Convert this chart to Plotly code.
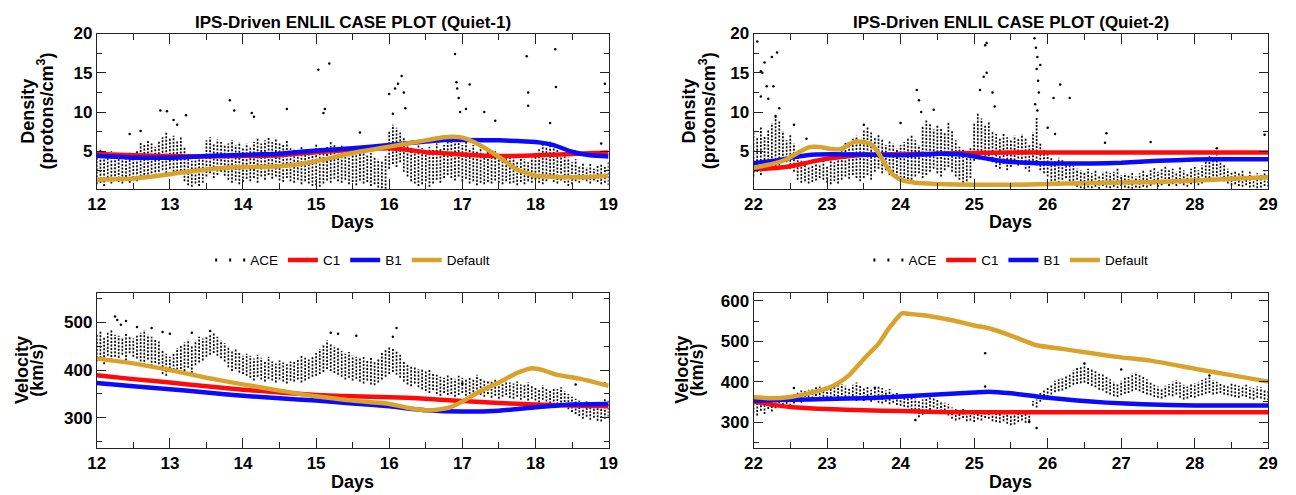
import plotly.graph_objects as go

# ------------------------------------------------------------------
# ACE observations, sampled every 0.05 day: lower / upper edge of the
# scatter at each sample time, plus isolated points outside the band.
# ------------------------------------------------------------------
ace_days_q1 = [round(12 + 0.05 * i, 2) for i in range(141)]
ace_days_q2 = [round(22 + 0.05 * i, 2) for i in range(141)]

# Quiet-1 density (protons/cm^3)
ace_dens_q1_lo = [
    0.8, 1.0, 0.6, 1.2, 0.9, 1.4, 1.1, 0.9, 1.3, 1.0, 1.6, 1.2,
    1.8, 2.0, 1.6, 2.2, 1.9, 2.4, 2.6, 2.2, 2.8, 2.4, 2.0, 2.5,
    1.2, 0.7, 0.5, 0.9, 0.6, 1.0, 1.8, 2.2, 1.6, 2.0, 2.4, 1.9,
    1.4, 1.0, 1.3, 0.8, 1.1, 1.5, 1.2, 1.6, 1.0, 1.8, 1.4, 2.0,
    1.5, 1.8, 1.3, 1.1, 1.6, 1.2, 1.0, 1.4, 0.8, 1.2, 0.9, 0.6,
    0.7, 0.5, 0.9, 1.3, 1.0, 1.5, 1.2, 1.0, 1.4, 0.8, 1.1, 0.7,
    1.3, 0.9, 1.1, 0.6, 0.8, 0.4, 0.3, 0.2, 2.8, 3.4, 3.0, 3.6,
    2.4, 1.8, 1.2, 0.9, 0.6, 0.8, 1.2, 0.5, 0.9, 1.4, 1.0, 1.6,
    2.0, 1.6, 1.3, 1.8, 1.2, 1.5, 0.9, 1.2, 0.7, 1.0, 0.8, 1.1,
    0.9, 1.3, 1.0, 0.8, 1.2, 0.9, 1.0, 0.7, 1.1, 0.8, 1.2, 1.0,
    1.4, 1.0, 0.8, 1.2, 1.5, 1.1, 0.9, 1.3, 1.0, 0.6, 0.8, 1.2,
    1.0, 1.4, 1.2, 0.9, 1.3, 1.1, 0.8, 1.0, 0.7,
]
ace_dens_q1_hi = [
    4.6, 5.2, 4.8, 4.4, 5.0, 4.6, 4.2, 4.8, 4.4, 5.0, 4.5, 5.2,
    6.2, 5.8, 6.5, 6.0, 5.6, 6.3, 6.8, 7.4, 6.6, 7.0, 6.4, 6.9,
    5.6, 4.4, 3.8, 4.2, 4.0, 4.6, 6.4, 6.8, 6.0, 6.5, 6.2, 5.8,
    6.0, 6.4, 5.8, 6.2, 5.5, 6.0, 5.6, 6.2, 6.6, 6.0, 6.4, 6.8,
    6.2, 6.6, 6.0, 5.8, 6.4, 5.4, 5.2, 4.8, 5.6, 5.0, 4.6, 5.4,
    6.0, 5.2, 4.8, 5.6, 6.2, 5.8, 5.4, 5.8, 5.0, 5.6, 5.2, 4.8,
    5.0, 5.4, 4.6, 4.8, 4.2, 4.0, 3.8, 4.4, 7.6, 8.4, 8.0, 7.4,
    6.8, 6.0, 5.6, 5.2, 5.8, 5.4, 5.0, 5.6, 5.2, 6.0, 5.4, 5.8,
    6.2, 6.6, 6.0, 6.4, 5.8, 6.2, 5.4, 5.8, 5.0, 5.6, 4.8, 5.2,
    4.6, 5.0, 4.4, 4.8, 4.2, 4.6, 4.2, 3.8, 4.4, 4.0, 3.6, 4.2,
    4.8, 5.4, 6.0, 5.6, 6.4, 5.8, 5.2, 4.6, 5.0, 4.2, 3.6, 4.0,
    3.2, 3.6, 3.0, 3.4, 2.8, 3.2, 3.4, 3.0, 3.6,
]
ace_dens_q1_out_t = [12.45, 12.6, 12.87, 12.96, 13.05, 13.1, 13.22, 13.82, 13.88, 14.12,
                     14.15, 14.6, 15.03, 15.18, 15.12, 15.1, 15.6, 16.0, 16.08, 16.12,
                     16.17, 16.2, 16.22, 16.05, 16.9, 16.92, 16.93, 16.95, 16.97, 17.1,
                     17.05, 17.3, 17.45, 17.88, 17.9, 17.9, 18.27, 18.28, 18.2, 18.95, 18.9]
ace_dens_q1_out_v = [7.2, 7.6, 10.2, 10.1, 9.0, 8.4, 9.6, 11.5, 10.2, 9.9,
                     9.4, 10.4, 15.4, 16.2, 10.4, 9.9, 7.4, 12.3, 13.0, 13.6,
                     14.6, 12.5, 10.5, 9.8, 17.4, 13.8, 13.0, 11.8, 10.0, 13.5,
                     10.4, 10.0, 8.9, 17.1, 12.5, 10.8, 18.0, 13.2, 8.6, 13.6, 6.0]

# Quiet-2 density (protons/cm^3)
ace_dens_q2_lo = [
    1.8, 2.4, 2.0, 3.0, 3.4, 2.8, 2.6, 3.2, 4.0, 3.6, 2.8, 2.4,
    1.4, 1.0, 1.2, 0.9, 1.1, 1.3, 1.6, 1.4, 1.0, 0.8, 1.2, 0.9,
    1.4, 1.8, 1.5, 2.0, 1.6, 1.2, 1.6, 2.0, 1.4, 2.4, 2.8, 2.2,
    2.6, 2.0, 2.4, 1.8, 1.2, 1.6, 1.0, 1.4, 1.8, 2.2, 1.6, 2.0,
    2.4, 2.8, 2.2, 1.8, 2.6, 3.0, 2.4, 1.8, 1.4, 1.0, 1.2, 1.6,
    3.8, 4.2, 4.6, 4.0, 4.4, 3.6, 3.0, 2.8, 3.4, 2.6, 3.0, 3.4,
    3.2, 3.6, 2.8, 2.4, 3.8, 3.2, 2.6, 2.2, 1.8, 1.2, 0.8, 1.0,
    1.4, 1.6, 1.2, 0.8, 0.5, 0.3, 0.2, 0.4, 0.3, 0.5, 0.2, 0.6,
    0.4, 0.3, 0.5, 0.3, 0.6, 0.4, 0.3, 0.2, 0.4, 0.3, 0.5, 0.4,
    0.6, 0.8, 0.5, 0.7, 1.0, 0.6, 0.8, 0.6, 0.9, 0.7, 0.5, 0.8,
    1.0, 0.7, 0.9, 1.2, 1.6, 1.4, 1.8, 1.5, 1.2, 0.9, 0.7, 0.8,
    0.6, 0.5, 0.7, 0.4, 0.5, 0.3, 0.4, 0.6, 0.5,
]
ace_dens_q2_hi = [
    7.5, 6.8, 8.2, 7.0, 7.8, 8.6, 9.4, 8.8, 7.6, 6.4, 7.2, 6.0,
    4.2, 3.8, 3.4, 3.0, 3.2, 3.6, 3.4, 3.8, 3.2, 4.0, 3.6, 4.6,
    5.6, 6.2, 5.8, 6.6, 7.0, 6.4, 7.8, 8.2, 7.4, 6.8, 7.2, 6.6,
    5.8, 6.4, 6.0, 5.4, 5.8, 6.2, 6.6, 7.0, 6.4, 5.8, 8.2, 9.0,
    8.6, 7.8, 8.4, 8.0, 7.4, 8.8, 7.6, 6.4, 5.6, 5.2, 4.8, 5.4,
    8.6, 9.8, 9.2, 8.4, 8.8, 7.6, 7.2, 6.6, 7.4, 6.8, 6.4, 7.0,
    6.6, 7.2, 6.8, 5.8, 7.4, 9.4, 6.0, 5.2, 4.8, 4.2, 3.8, 4.2,
    4.0, 3.6, 3.8, 3.2, 2.8, 2.6, 2.4, 2.8, 2.2, 2.6, 2.0, 2.4,
    2.6, 2.2, 2.4, 2.8, 2.0, 2.2, 2.0, 2.4, 1.8, 2.2, 2.6, 2.0,
    2.6, 3.0, 2.4, 2.8, 3.2, 2.6, 2.8, 2.4, 3.0, 2.6, 2.2, 2.8,
    3.0, 2.6, 3.2, 3.8, 4.4, 4.0, 4.6, 3.8, 3.4, 2.8, 2.4, 2.6,
    2.2, 2.6, 2.0, 2.4, 1.8, 2.2, 2.0, 2.4, 1.8,
]
ace_dens_q2_out_t = [22.05, 22.1, 22.12, 22.15, 22.2, 22.25, 22.27, 22.32, 22.18, 22.35,
                     22.1, 22.3, 22.55, 22.72, 23.5, 24.0, 24.22, 24.25, 24.28, 24.45,
                     25.15, 25.17, 25.13, 25.17, 25.08, 25.25, 25.28, 25.82, 25.84, 25.86,
                     25.85, 25.87, 25.88, 25.83, 25.86, 25.9, 26.08, 26.17, 26.3, 26.1,
                     26.8, 26.78, 27.4, 28.3, 28.95, 26.0]
ace_dens_q2_out_v = [19.0, 15.2, 15.0, 16.3, 11.7, 17.0, 13.3, 17.6, 13.3, 10.5,
                     12.0, 9.5, 8.4, 6.6, 8.4, 8.6, 12.8, 11.5, 10.0, 10.3,
                     18.5, 18.8, 14.5, 15.0, 12.8, 12.5, 10.7, 19.4, 18.2, 17.0,
                     15.5, 14.0, 12.5, 11.0, 10.2, 16.0, 11.8, 13.5, 11.8, 7.2,
                     7.3, 6.1, 6.2, 5.4, 7.1, 8.0]

# Quiet-1 velocity (km/s)
ace_vel_q1_lo = [
    418, 425, 412, 430, 420, 428, 426, 432, 420, 435, 428, 424,
    418, 410, 422, 408, 415, 412, 392, 388, 396, 400, 394, 402,
    398, 405, 394, 410, 416, 420, 428, 432, 436, 430, 425, 418,
    406, 398, 402, 395, 392, 388, 384, 378, 386, 380, 376, 382,
    378, 374, 380, 376, 372, 378, 376, 380, 374, 378, 382, 386,
    388, 392, 396, 402, 398, 394, 390, 386, 380, 384, 378, 382,
    376, 372, 378, 370, 368, 374, 380, 386, 392, 396, 390, 384,
    376, 370, 366, 372, 364, 360, 356, 352, 358, 350, 346, 352,
    348, 350, 344, 348, 352, 346, 350, 346, 352, 348, 344, 350,
    342, 346, 340, 344, 348, 342, 340, 344, 338, 342, 336, 340,
    336, 332, 338, 334, 330, 334, 328, 332, 326, 318, 312, 308,
    304, 298, 302, 296, 300, 294, 292, 298, 302,
]
ace_vel_q1_hi = [
    476, 482, 470, 478, 486, 474, 472, 468, 476, 470, 466, 472,
    478, 484, 474, 470, 466, 460, 440, 434, 428, 436, 446, 452,
    458, 464, 452, 462, 470, 466, 472, 476, 478, 470, 462, 456,
    448, 440, 444, 436, 430, 434, 430, 424, 432, 426, 420, 428,
    418, 414, 420, 416, 412, 418, 420, 424, 430, 426, 422, 428,
    436, 444, 452, 462, 456, 448, 446, 440, 434, 438, 430, 428,
    424, 430, 420, 426, 418, 424, 436, 442, 450, 446, 440, 432,
    420, 414, 410, 406, 402, 404, 398, 402, 394, 390, 386, 384,
    390, 386, 382, 388, 384, 380, 386, 382, 390, 384, 380, 376,
    378, 382, 376, 372, 378, 374, 372, 376, 370, 368, 374, 366,
    364, 360, 368, 362, 358, 362, 360, 364, 356, 350, 344, 340,
    336, 330, 334, 328, 326, 330, 336, 342, 338,
]
ace_vel_q1_out_t = [12.25, 12.28, 12.33, 12.4, 12.55, 12.75, 12.9, 13.0, 13.3, 13.55,
                    15.2, 15.3, 15.55, 16.1, 16.05, 18.55, 18.95, 17.0]
ace_vel_q1_out_v = [512, 505, 495, 503, 490, 488, 480, 476, 478, 482,
                    478, 476, 472, 488, 470, 370, 372, 372]

# Quiet-2 velocity (km/s)
ace_vel_q2_lo = [
    322, 316, 328, 320, 332, 326, 334, 338, 342, 336, 340, 346,
    350, 348, 354, 352, 358, 356, 358, 354, 352, 360, 356, 362,
    358, 354, 360, 356, 352, 358, 352, 356, 350, 354, 348, 346,
    350, 344, 348, 342, 340, 338, 336, 330, 322, 312, 318, 326,
    330, 336, 332, 326, 320, 316, 308, 304, 306, 310, 302, 304,
    300, 306, 304, 310, 308, 302, 300, 298, 302, 296, 292, 294,
    300, 304, 298, 302, 340, 336, 350, 356, 362, 368, 374, 376,
    378, 382, 386, 392, 394, 396, 398, 394, 390, 386, 380, 378,
    372, 368, 364, 362, 366, 370, 372, 376, 380, 376, 372, 368,
    366, 362, 360, 358, 362, 366, 364, 368, 360, 356, 358, 362,
    360, 364, 366, 370, 372, 368, 370, 372, 368, 366, 364, 362,
    360, 364, 362, 358, 356, 360, 358, 356, 354,
]
ace_vel_q2_hi = [
    352, 356, 348, 358, 362, 356, 362, 358, 364, 360, 366, 370,
    374, 378, 376, 380, 384, 386, 388, 384, 380, 386, 390, 392,
    394, 390, 386, 392, 398, 390, 384, 388, 380, 386, 390, 384,
    378, 382, 374, 372, 368, 370, 366, 362, 358, 352, 356, 360,
    364, 360, 356, 352, 348, 344, 336, 332, 330, 334, 328, 326,
    328, 332, 330, 326, 330, 328, 324, 322, 326, 320, 318, 316,
    320, 326, 322, 328, 352, 356, 372, 380, 388, 394, 402, 406,
    408, 414, 420, 428, 434, 438, 442, 436, 430, 426, 420, 418,
    412, 406, 400, 396, 402, 410, 414, 420, 424, 418, 412, 406,
    398, 392, 388, 384, 390, 394, 400, 404, 398, 392, 388, 394,
    396, 400, 404, 408, 410, 404, 400, 398, 394, 392, 396, 392,
    390, 388, 392, 386, 384, 388, 386, 382, 380,
]
ace_vel_q2_out_t = [25.15, 25.15, 22.55, 25.85, 24.2, 23.65, 27.0, 28.2, 26.5, 25.75]
ace_vel_q2_out_v = [470, 388, 384, 285, 305, 385, 430, 415, 445, 300]

# ------------------------------------------------------------------
# ENLIL model runs
# ------------------------------------------------------------------
# Quiet-1 density
c1_dens_q1_t = [12.0, 12.5, 13.0, 13.5, 14.0, 14.5, 15.0, 15.5, 16.0, 16.25, 16.5, 16.75, 17.0, 17.5, 18.0, 18.5, 19.0]
c1_dens_q1 = [4.65, 4.5, 4.4, 4.35, 4.4, 4.5, 4.9, 5.2, 5.4, 5.2, 4.9, 4.75, 4.6, 4.4, 4.5, 4.65, 4.85]
b1_dens_q1_t = [12.0, 12.5, 13.0, 13.5, 14.0, 14.5, 15.0, 15.5, 16.0, 16.5, 16.75, 17.0, 17.5, 18.0, 18.25, 18.5, 18.75, 19.0]
b1_dens_q1 = [4.45, 4.2, 4.2, 4.4, 4.55, 4.7, 5.1, 5.4, 5.8, 6.25, 6.45, 6.45, 6.4, 6.2, 5.8, 4.95, 4.5, 4.35]
df_dens_q1_t = [12.0, 12.5, 13.0, 13.5, 14.0, 14.5, 15.0, 15.5, 16.0, 16.5, 16.75, 17.0, 17.2, 17.45, 17.75, 18.0, 18.25, 18.5, 18.75, 19.0]
df_dens_q1 = [1.4, 1.55, 2.1, 2.7, 3.0, 3.1, 3.75, 4.8, 5.6, 6.4, 6.8, 6.75, 6.0, 4.6, 2.7, 1.9, 1.75, 1.7, 1.75, 1.9]

# Quiet-2 density
c1_dens_q2_t = [22.0, 22.25, 22.5, 22.75, 23.0, 23.25, 23.5, 23.75, 24.0, 24.5, 25.0, 25.5, 26.0, 27.0, 28.0, 29.0]
c1_dens_q2 = [2.7, 2.85, 3.1, 3.6, 4.05, 4.35, 4.55, 4.6, 4.65, 4.7, 4.8, 4.85, 4.85, 4.85, 4.85, 4.85]
b1_dens_q2_t = [22.0, 22.3, 22.58, 22.85, 23.5, 24.0, 24.55, 24.82, 25.1, 25.4, 25.7, 26.2, 26.6, 27.0, 27.5, 28.0, 28.5, 29.0]
b1_dens_q2 = [3.5, 3.8, 4.3, 4.6, 4.6, 4.5, 4.7, 4.6, 4.2, 3.75, 3.55, 3.45, 3.45, 3.55, 3.8, 3.95, 4.0, 4.0]
df_dens_q2_t = [22.0, 22.15, 22.3, 22.45, 22.6, 22.75, 22.9, 23.05, 23.2, 23.3, 23.4, 23.5, 23.6, 23.7, 23.8, 23.9, 24.0, 24.2, 24.5, 25.0, 25.5, 26.0, 26.5, 27.0, 27.5, 28.0, 28.5, 29.0]
df_dens_q2 = [2.9, 3.2, 3.5, 4.0, 4.8, 5.5, 5.55, 5.3, 5.3, 5.9, 6.25, 6.2, 5.9, 4.8, 3.2, 2.0, 1.4, 1.0, 0.85, 0.75, 0.75, 0.85, 0.95, 1.05, 1.1, 1.3, 1.5, 1.7]

# Quiet-1 velocity
c1_vel_q1_t = [12.0, 12.5, 13.0, 13.5, 14.0, 14.5, 15.0, 15.5, 16.0, 16.25, 16.5, 17.0, 17.5, 18.0, 18.5, 19.0]
c1_vel_q1 = [389, 381, 374, 366, 359, 353, 348, 345, 343, 342, 340, 335, 331, 328, 326, 324]
b1_vel_q1_t = [12.0, 12.5, 13.0, 13.5, 14.0, 14.5, 15.0, 15.5, 16.0, 16.5, 17.0, 17.5, 18.0, 18.5, 19.0]
b1_vel_q1 = [373, 366, 360, 353, 346, 341, 336, 330, 324, 316, 313, 315, 322, 328, 329]
df_vel_q1_t = [12.0, 12.5, 13.0, 13.5, 14.0, 14.5, 15.0, 15.5, 16.0, 16.25, 16.5, 16.65, 16.85, 17.0, 17.25, 17.5, 17.75, 17.95, 18.1, 18.3, 18.6, 19.0]
df_vel_q1 = [424, 414, 400, 384, 370, 357, 345, 336, 329, 321, 316, 317, 323, 334, 356, 374, 394, 404, 400, 390, 382, 367]

# Quiet-2 velocity
c1_vel_q2_t = [22.0, 22.25, 22.5, 22.75, 23.0, 23.5, 24.0, 24.5, 25.0, 26.0, 27.0, 28.0, 29.0]
c1_vel_q2 = [351, 343, 337, 334, 332, 329, 327, 325, 324, 324, 324, 324, 324]
b1_vel_q2_t = [22.0, 22.5, 23.0, 23.5, 24.0, 24.5, 25.0, 25.2, 25.5, 25.9, 26.4, 26.8, 27.3, 28.0, 28.5, 29.0]
b1_vel_q2 = [353, 355, 357, 359, 363, 368, 373, 375, 371, 362, 353, 348, 344, 341, 341, 341]
df_vel_q2_t = [22.0, 22.25, 22.5, 22.75, 23.0, 23.15, 23.3, 23.5, 23.7, 23.85, 24.02, 24.1, 24.4, 24.7, 25.0, 25.2, 25.5, 25.85, 26.2, 26.6, 27.0, 27.4, 28.0, 28.5, 29.0]
df_vel_q2 = [362, 359, 362, 371, 383, 396, 416, 456, 494, 534, 569, 568, 562, 552, 539, 532, 514, 490, 481, 470, 460, 452, 432, 416, 400]

# ------------------------------------------------------------------
# Styling
# ------------------------------------------------------------------
RED, BLUE, GOLD = "#FF0A0A", "#0A0AFF", "#D9A22A"
AXIS_COLOR = "#222222"
SANS = "Liberation Sans, Arial, Helvetica, sans-serif"
W, H = 1296, 495

# plot-area placement (pixels)
LEFT_X = (89, 608)
RIGHT_X = (755, 1277)
TOP_Y = (25, 183)
BOT_Y = (289, 447)


def px_x(p):
    return p / W


def px_y(p):
    return 1 - p / H


def cloud(days, lo, hi):
    xs, ys = [], []
    for t, a, b in zip(days, lo, hi):
        xs += [t, t, None]
        ys += [a, b, None]
    return xs, ys


fig = go.Figure()

panels = [
    # axis suffix, ACE band, isolated ACE points, model curves, legend
    ("", ace_days_q1, ace_dens_q1_lo, ace_dens_q1_hi, ace_dens_q1_out_t, ace_dens_q1_out_v,
     [(c1_dens_q1_t, c1_dens_q1), (b1_dens_q1_t, b1_dens_q1), (df_dens_q1_t, df_dens_q1)], "legend", True),
    ("2", ace_days_q2, ace_dens_q2_lo, ace_dens_q2_hi, ace_dens_q2_out_t, ace_dens_q2_out_v,
     [(c1_dens_q2_t, c1_dens_q2), (b1_dens_q2_t, b1_dens_q2), (df_dens_q2_t, df_dens_q2)], "legend2", True),
    ("3", ace_days_q1, ace_vel_q1_lo, ace_vel_q1_hi, ace_vel_q1_out_t, ace_vel_q1_out_v,
     [(c1_vel_q1_t, c1_vel_q1), (b1_vel_q1_t, b1_vel_q1), (df_vel_q1_t, df_vel_q1)], "legend", False),
    ("4", ace_days_q2, ace_vel_q2_lo, ace_vel_q2_hi, ace_vel_q2_out_t, ace_vel_q2_out_v,
     [(c1_vel_q2_t, c1_vel_q2), (b1_vel_q2_t, b1_vel_q2), (df_vel_q2_t, df_vel_q2)], "legend2", False),
]

for suffix, days, lo, hi, out_t, out_v, models, leg, show in panels:
    xa, ya = "x" + suffix, "y" + suffix
    cx, cy = cloud(days, lo, hi)
    fig.add_trace(go.Scatter(
        x=cx, y=cy, mode="lines", xaxis=xa, yaxis=ya, showlegend=False, hoverinfo="skip",
        line=dict(color="black", width=1.7, dash="2px,1.5px"),
    ))
    fig.add_trace(go.Scatter(
        x=out_t, y=out_v, mode="markers", xaxis=xa, yaxis=ya, showlegend=False,
        marker=dict(color="black", size=2.5),
    ))
    if show:
        fig.add_trace(go.Scatter(
            x=[None], y=[None], mode="lines", name="ACE", legend=leg, xaxis=xa, yaxis=ya,
            line=dict(color="black", width=3, dash="2px,12px"),
        ))
    for (t, v), name, color in zip(models, ["C1", "B1", "Default"], [RED, BLUE, GOLD]):
        fig.add_trace(go.Scatter(
            x=t, y=v, mode="lines", name=name, legend=leg, showlegend=show,
            xaxis=xa, yaxis=ya,
            line=dict(color=color, width=4.5, shape="spline", smoothing=0.6),
        ))


def xaxis(rng, dom, anchor):
    return dict(
        range=rng, domain=[px_x(dom[0]), px_x(dom[1])], anchor=anchor,
        tick0=0, dtick=1, ticks="inside", ticklen=10, tickwidth=1, tickcolor=AXIS_COLOR,
        minor=dict(dtick=0.5, ticks="inside", ticklen=6, tickwidth=1, tickcolor=AXIS_COLOR),
        showline=True, linecolor=AXIS_COLOR, linewidth=1, mirror="ticks",
        showgrid=False, zeroline=False,
        tickfont=dict(family=SANS, size=17, color="black", weight="bold"),
    )


def yaxis(rng, dom, anchor, dtick):
    return dict(
        range=rng, domain=[px_y(dom[1]), px_y(dom[0])], anchor=anchor,
        tick0=0, dtick=dtick, ticks="inside", ticklen=9, tickwidth=1, tickcolor=AXIS_COLOR,
        minor=dict(dtick=dtick / 2, ticks="inside", ticklen=5, tickwidth=1, tickcolor=AXIS_COLOR),
        showline=True, linecolor=AXIS_COLOR, linewidth=1, mirror="ticks",
        showgrid=False, zeroline=False,
        tickfont=dict(family=SANS, size=17, color="black", weight="bold"),
    )


legend_style = dict(
    orientation="h", xanchor="center", yanchor="middle", y=px_y(256),
    font=dict(family=SANS, size=13.5, color="black"), bgcolor="rgba(0,0,0,0)",
    itemwidth=30, tracegroupgap=0,
)

fig.update_layout(
    width=W, height=H,
    margin=dict(l=0, r=0, t=0, b=0),
    paper_bgcolor="white", plot_bgcolor="white",
    xaxis=xaxis([12, 19], LEFT_X, "y"),
    yaxis=yaxis([0.25, 20], TOP_Y, "x", 5),
    xaxis2=xaxis([22, 29], RIGHT_X, "y2"),
    yaxis2=yaxis([0.25, 20], TOP_Y, "x2", 5),
    xaxis3=xaxis([12, 19], LEFT_X, "y3"),
    yaxis3=yaxis([237, 562], BOT_Y, "x3", 100),
    xaxis4=xaxis([22, 29], RIGHT_X, "y4"),
    yaxis4=yaxis([236, 620], BOT_Y, "x4", 100),
    legend=dict(legend_style, x=px_x(sum(LEFT_X) / 2)),
    legend2=dict(legend_style, x=px_x(sum(RIGHT_X) / 2)),
)

annotations = []
for side, xr, title in [("left", LEFT_X, "IPS-Driven ENLIL CASE PLOT (Quiet-1)"),
                        ("right", RIGHT_X, "IPS-Driven ENLIL CASE PLOT (Quiet-2)")]:
    cx = px_x(sum(xr) / 2)
    annotations.append(dict(text="<b>" + title + "</b>", x=cx, y=px_y(14), xref="paper", yref="paper",
                            showarrow=False, xanchor="center", yanchor="middle",
                            font=dict(family=SANS, size=17, color="black")))
    for ypos in (217, 482):
        annotations.append(dict(text="<b>Days</b>", x=cx, y=px_y(ypos), xref="paper", yref="paper",
                                showarrow=False, xanchor="center", yanchor="middle",
                                font=dict(family=SANS, size=18, color="black")))
    shifts = {"left": (-5, -3), "right": (0, 0)}[side]
    for yr, lines, offsets, shift in [(TOP_Y, ["Density", "(protons/cm<sup>3</sup>)"], (-65, -47), shifts[0]),
                                      (BOT_Y, ["Velocity", "(km/s)"], (-72, -57), shifts[1])]:
        for txt, off in zip(lines, offsets):
            annotations.append(dict(text="<b>" + txt + "</b>", x=px_x(xr[0] + off), y=px_y(sum(yr) / 2),
                                    xref="paper", yref="paper", showarrow=False, textangle=-90,
                                    xanchor="center", yanchor="middle", xshift=shift,
                                    font=dict(family=SANS, size=18, color="black")))

fig.update_layout(annotations=annotations)

fig.write_html("out.html")
